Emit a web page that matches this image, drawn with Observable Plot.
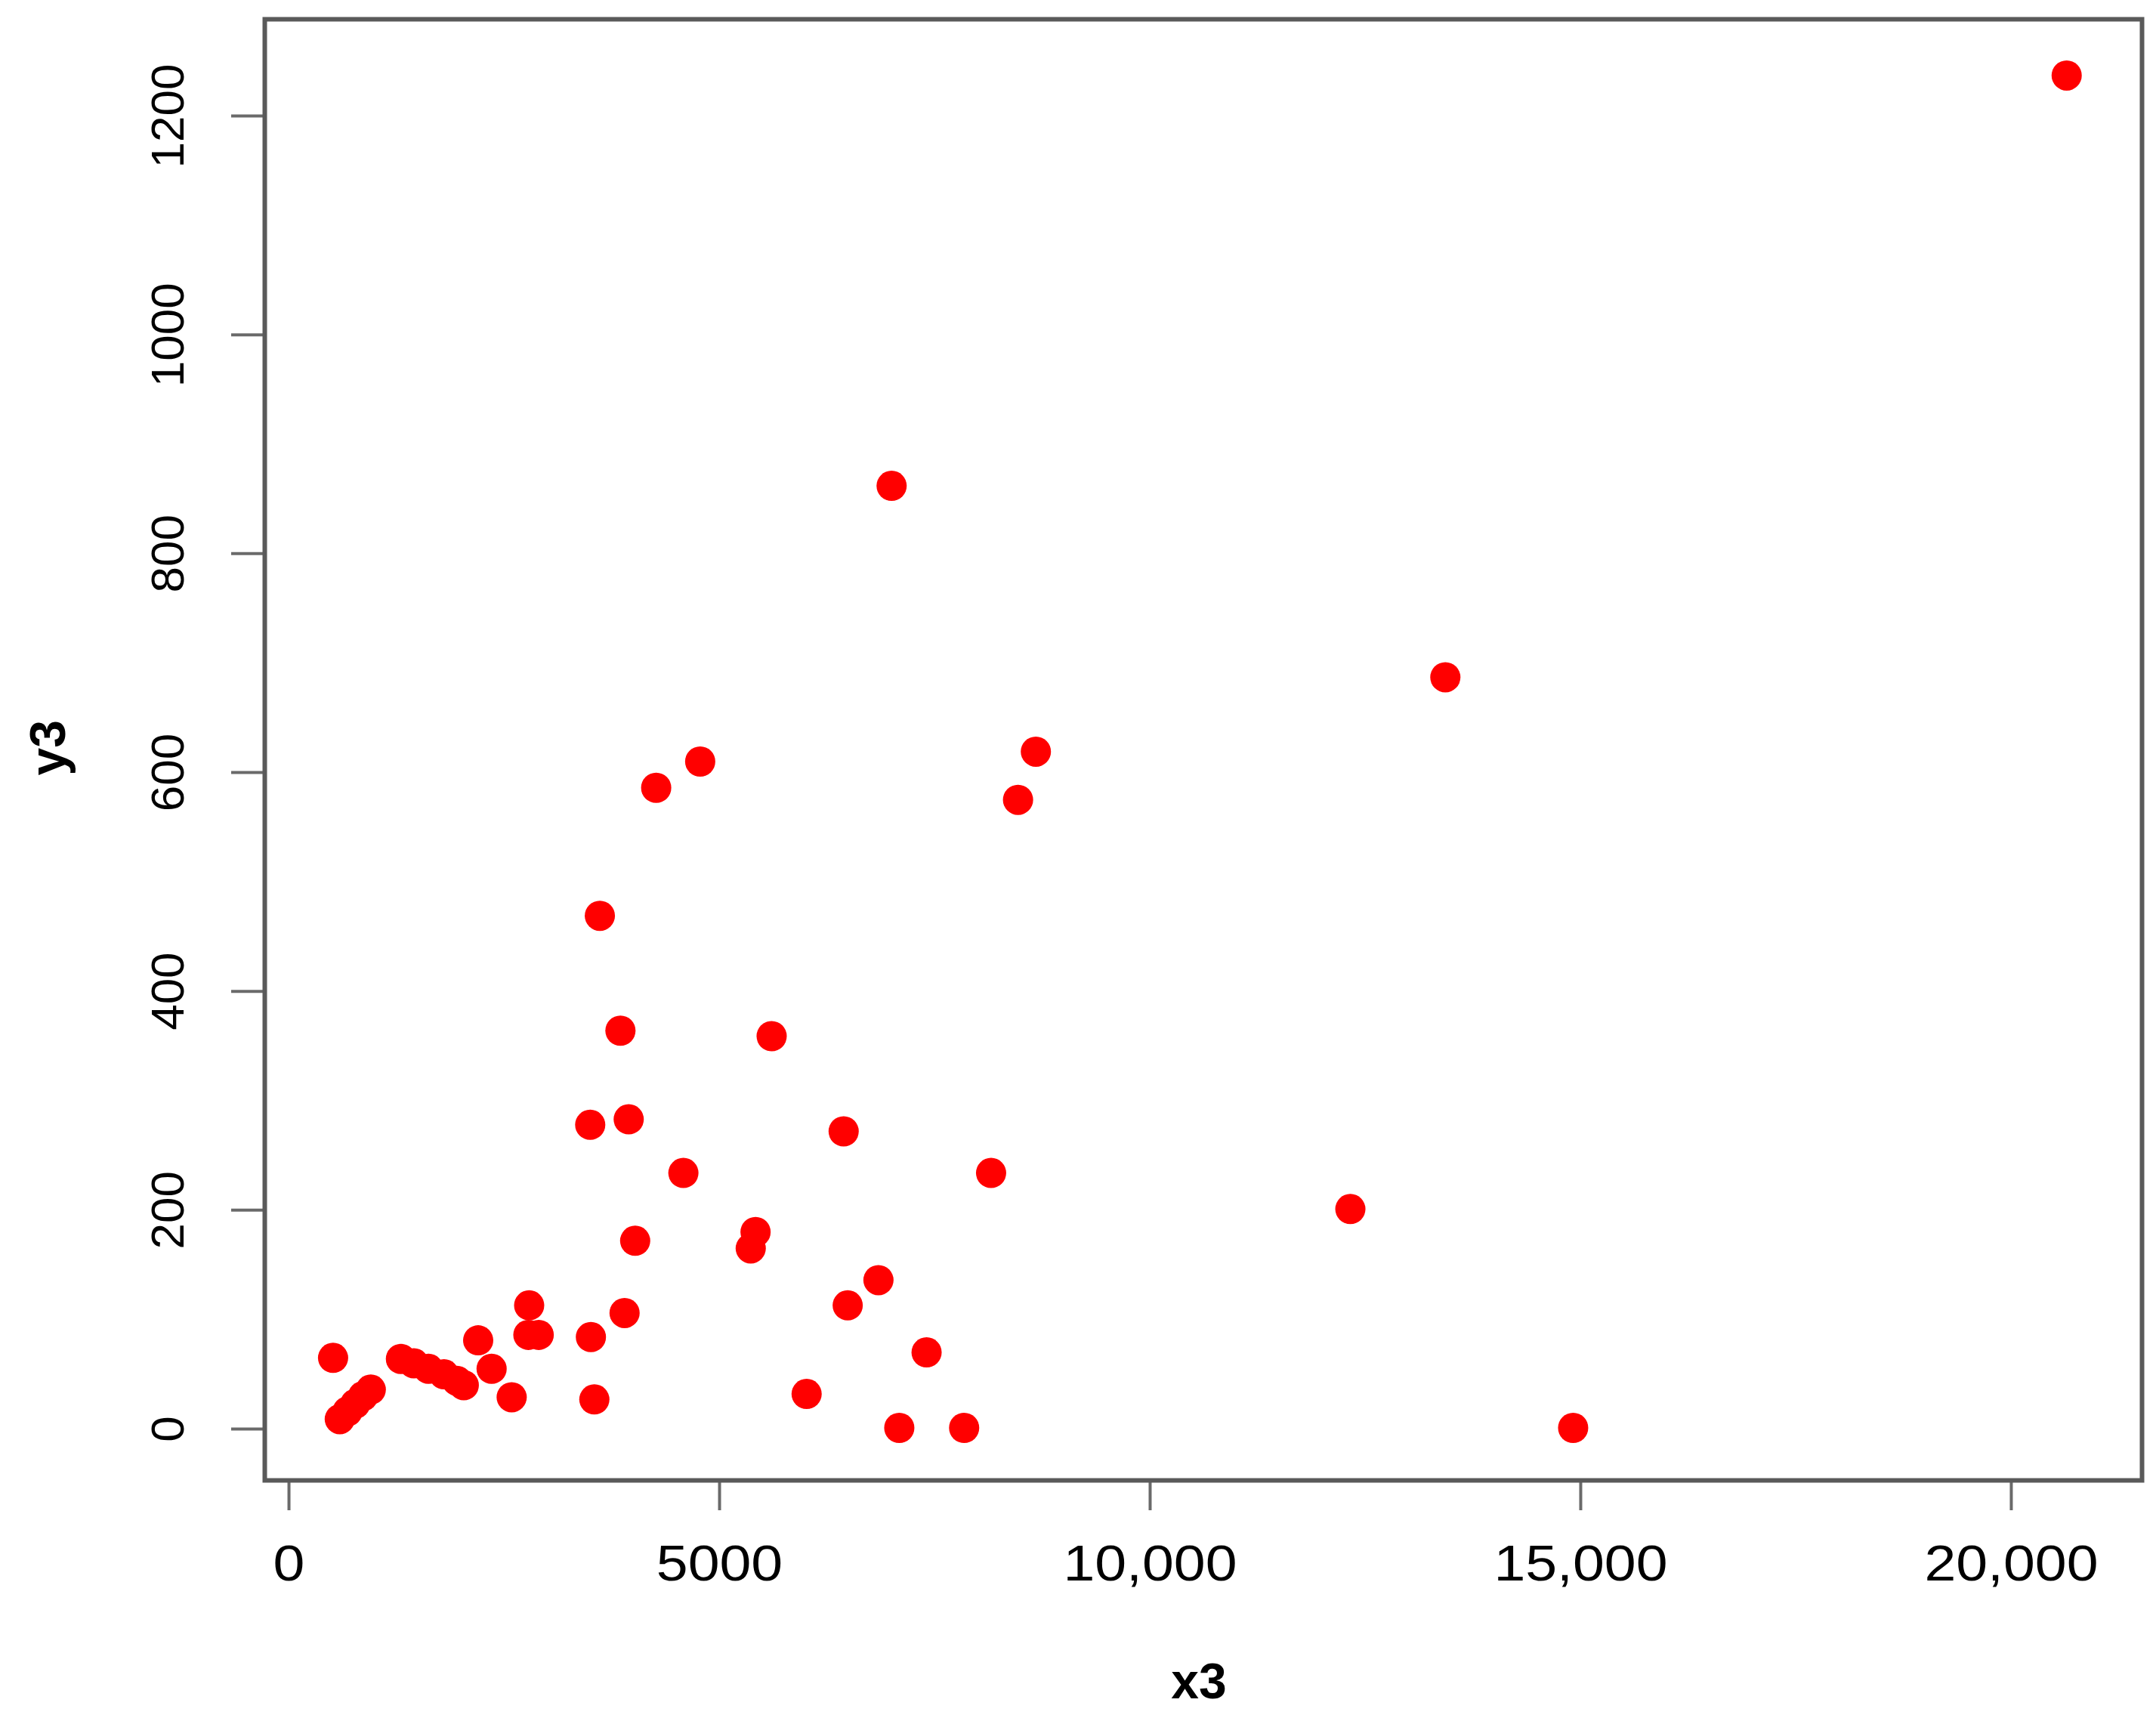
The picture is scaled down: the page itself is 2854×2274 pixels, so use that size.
<!DOCTYPE html>
<html>
<head>
<meta charset="utf-8">
<script src="https://cdn.jsdelivr.net/npm/d3@7"></script>
<script src="https://cdn.jsdelivr.net/npm/@observablehq/plot@0.6"></script>
<style>
  html, body { margin: 0; padding: 0; background: #ffffff; }
</style>
</head>
<body>
<div id="chart"></div>
<script>
// Data (x3 vs y3)
const x3 = [20643, 6998, 13428, 8673, 8466, 4775, 4264, 3610, 3849, 5605,
            3498, 3945, 6441, 4580, 8153, 12325, 4020, 5418, 5362, 6845,
            6488, 3897, 2789, 7404, 3506, 2780, 2900, 2197, 2353, 2586,
            3546, 6011, 7087, 7840, 14912, 512,
            590, 680, 770, 860, 950,
            1300, 1450, 1620, 1800, 1950, 2030];
const y3 = [1237, 862, 687, 619, 575, 610, 586, 469, 364, 359,
            278, 283, 272, 234, 234, 201, 172, 180, 165, 136,
            113, 106, 113, 70, 84, 86, 86, 81, 55, 29,
            27, 32, 1, 1, 1, 65,
            9, 16, 23, 30, 36,
            64, 60, 55, 50, 44, 40];

const xTicks = [0, 5000, 10000, 15000, 20000];
const xTickLabels = ["0", "5000", "10,000", "15,000", "20,000"];
const yTicks = [0, 200, 400, 600, 800, 1000, 1200];
const yTickLabels = ["0", "200", "400", "600", "800", "1000", "1200"];
const xTitle = "x3";
const yTitle = "y3";

const points = x3.map((x, i) => ({x, y: y3[i]}));

const font = "'Liberation Sans', Arial, Helvetica, sans-serif";
const frameColor = "#5a5a5a";
const tickColor = "#6a6a6a";

const chart = Plot.plot({
  width: 2854,
  height: 2274,
  marginLeft: 350,
  marginRight: 19,
  marginTop: 25,
  marginBottom: 315,
  style: {fontFamily: font, background: "#ffffff", color: "#000"},
  x: {domain: [-281, 21518]},
  y: {domain: [-47, 1288.4]},
  marks: [
    Plot.axisX({
      ticks: xTicks,
      tickFormat: (d, i) => xTickLabels[i],
      tickSize: 40,
      tickPadding: 46,
      fontSize: 66,
      stroke: tickColor,
      strokeWidth: 4,
      fill: "#000",
      label: null
    }),
    Plot.axisY({
      ticks: yTicks,
      tickSize: 44,
      stroke: tickColor,
      strokeWidth: 4,
      fill: "none",
      label: null
    }),
    Plot.text(yTicks, {
      y: d => d,
      text: (d, i) => yTickLabels[i],
      frameAnchor: "left",
      dx: -127,
      rotate: -90,
      textAnchor: "middle",
      lineAnchor: "middle",
      fontSize: 62,
      fill: "#000",
      ariaLabel: "ylabels"
    }),
    Plot.dot(points, {x: "x", y: "y", r: 20, fill: "#ff0000", stroke: "none"}),
    Plot.frame({stroke: frameColor, strokeWidth: 6}),
    Plot.text([xTitle], {
      text: d => d,
      frameAnchor: "bottom",
      dy: 267,
      dx: -6,
      lineAnchor: "middle",
      fontSize: 66,
      fontWeight: "bold",
      fill: "#000",
      ariaLabel: "xtitle"
    }),
    Plot.text([yTitle], {
      text: d => d,
      frameAnchor: "left",
      dx: -286,
      dy: 34,
      rotate: -90,
      lineAnchor: "middle",
      fontSize: 66,
      fontWeight: "bold",
      fill: "#000",
      ariaLabel: "ytitle"
    })
  ]
});

// The reference's text is stretched horizontally; emulate it.
const svg = d3.select(chart);
svg.selectAll('g[aria-label="x-axis tick label"] text')
  .attr("transform", function() {
    const t = this.getAttribute("transform") || "";
    return t + " scale(1.14,1)";
  });
svg.selectAll('g[aria-label="xtitle"] text')
  .attr("transform", function() {
    const t = this.getAttribute("transform") || "";
    return t + " scale(1.2,1)";
  });
svg.selectAll('g[aria-label="ylabels"] text, g[aria-label="ytitle"] text')
  .attr("transform", function() {
    const t = this.getAttribute("transform") || "";
    return t + " scale(1,1.4)";
  });

document.getElementById("chart").appendChild(chart);
</script>
</body>
</html>
